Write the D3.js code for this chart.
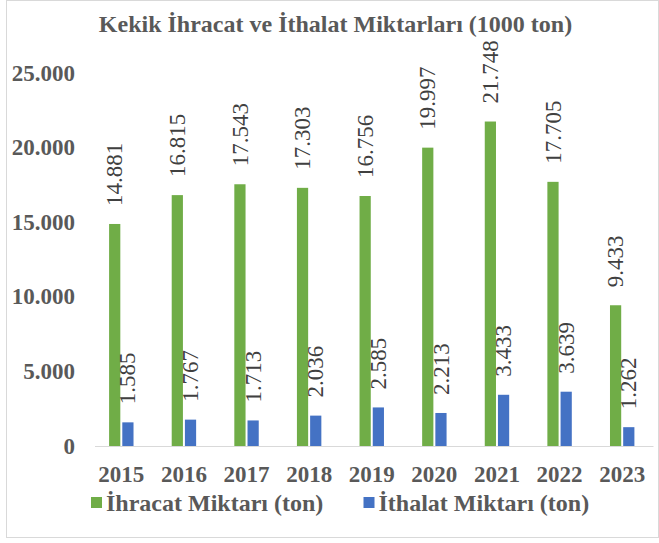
<!DOCTYPE html>
<html>
<head>
<meta charset="utf-8">
<script src="https://cdn.jsdelivr.net/npm/d3@7"></script>
<style>
  body { margin: 0; background: #fff; }
  svg { display: block; }
  svg text { font-family: "Liberation Serif", "Times New Roman", serif; }
</style>
</head>
<body>
<svg width="659" height="543"></svg>
<script>
const years = ["2015", "2016", "2017", "2018", "2019", "2020", "2021", "2022", "2023"];
const ihracat = [14881, 16815, 17543, 17303, 16756, 19997, 21748, 17705, 9433];
const ithalat = [1585, 1767, 1713, 2036, 2585, 2213, 3433, 3639, 1262];
const seriesNames = ["İhracat Miktarı (ton)", "İthalat Miktarı (ton)"];
const seriesColors = ["#70AD47", "#4472C4"];
const yTicks = [0, 5000, 10000, 15000, 20000, 25000];
const chartTitle = "Kekik İhracat ve İthalat Miktarları (1000 ton)";

let svg = d3.select("svg");

// rows for the grouped bars
let rows = years.map(function (y, i) {
    return { year: y, values: [ihracat[i], ithalat[i]] };
});

// outer frame
svg.append("rect")
    .attr("x", 6.5).attr("y", 0.5)
    .attr("width", 652).attr("height", 537)
    .attr("fill", "#fff")
    .attr("stroke", "#D9D9D9");

svg.append("text")
    .attr("x", 335.5).attr("y", 31.5)
    .attr("text-anchor", "middle")
    .attr("font-size", 24).attr("font-weight", "bold")
    .attr("fill", "#595959")
    .text(chartTitle);

let x0 = d3.scaleBand().domain(years).range([90, 653.5]);
let groupW = x0.bandwidth() * 0.39;
let x1 = d3.scaleBand().domain([0, 1]).range([-groupW / 2, groupW / 2]).paddingInner(0.15);
let y = d3.scaleLinear().domain([0, 25000]).range([446, 73]);

let fmt = d3.formatLocale({ decimal: ",", thousands: ".", grouping: [3] }).format(",");

// y axis labels (no line, no ticks)
svg.append("g")
    .selectAll("text")
    .data(yTicks)
    .enter().append("text")
    .attr("x", 75)
    .attr("y", function (d) { return y(d); })
    .attr("dy", "0.33em")
    .attr("text-anchor", "end")
    .attr("font-size", 23).attr("font-weight", "bold")
    .attr("fill", "#595959")
    .text(function (d) { return fmt(d); });

// bars
let group = svg.append("g")
    .selectAll("g")
    .data(rows)
    .enter().append("g")
    .attr("transform", function (d) { return "translate(" + (x0(d.year) + x0.bandwidth() / 2) + ",0)"; });

group.selectAll("rect")
    .data(function (d) { return d.values; })
    .enter().append("rect")
    .attr("x", function (d, i) { return x1(i); })
    .attr("y", function (d) { return y(d); })
    .attr("width", x1.bandwidth())
    .attr("height", function (d) { return y(0) - y(d); })
    .attr("fill", function (d, i) { return seriesColors[i]; });

// value labels, rotated
group.selectAll("text")
    .data(function (d) { return d.values; })
    .enter().append("text")
    .attr("transform", function (d, i) {
        return "translate(" + (x1(i) + x1.bandwidth() / 2) + "," + (y(d) - 18) + ") rotate(-90)";
    })
    .attr("dy", "0.33em")
    .attr("font-family", "'Liberation Serif', serif")
    .attr("font-size", 23)
    .attr("fill", "#404040")
    .text(function (d) { return d3.format(",.3f")(d / 1000); });

// baseline
svg.append("line")
    .attr("x1", x0.range()[0] + 5).attr("x2", x0.range()[1])
    .attr("y1", y(0) + 0.5).attr("y2", y(0) + 0.5)
    .attr("stroke", "#D9D9D9").attr("stroke-width", 1);

// x axis labels
svg.append("g")
    .selectAll("text")
    .data(years)
    .enter().append("text")
    .attr("x", function (d) { return x0(d) + x0.bandwidth() / 2; })
    .attr("y", 482)
    .attr("text-anchor", "middle")
    .attr("font-size", 23).attr("font-weight", "bold")
    .attr("fill", "#595959")
    .text(function (d) { return d; });

// legend
let legendX = [91, 363.5];
let legend = svg.append("g")
    .selectAll("g")
    .data(seriesNames)
    .enter().append("g")
    .attr("transform", function (d, i) { return "translate(" + legendX[i] + ",497)"; });

legend.append("rect")
    .attr("width", 11).attr("height", 11)
    .attr("fill", function (d, i) { return seriesColors[i]; });

legend.append("text")
    .attr("x", 15).attr("y", 14)
    .attr("font-size", 24).attr("font-weight", "bold")
    .attr("fill", "#595959")
    .text(function (d) { return d; });
</script>
</body>
</html>
